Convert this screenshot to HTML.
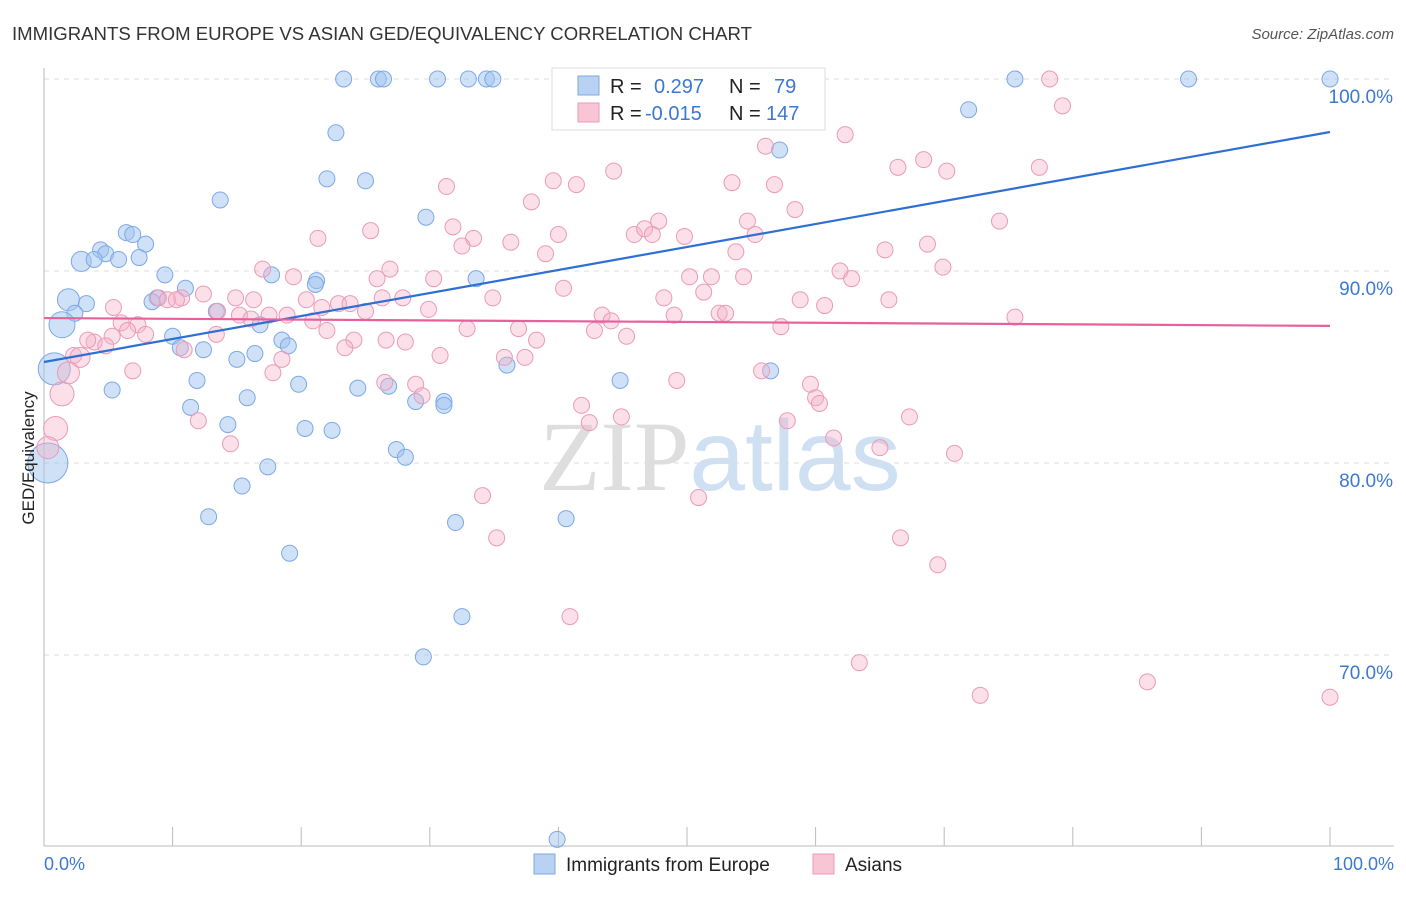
<!DOCTYPE html>
<html><head><meta charset="utf-8"><style>
body{margin:0;background:#fff;font-family:"Liberation Sans",sans-serif;}
svg text{font-family:"Liberation Sans",sans-serif;}
</style></head><body>
<svg id="chart" width="1406" height="892" xmlns="http://www.w3.org/2000/svg">
<text x="12" y="40" font-size="18" fill="#333" textLength="740" lengthAdjust="spacingAndGlyphs">IMMIGRANTS FROM EUROPE VS ASIAN GED/EQUIVALENCY CORRELATION CHART</text>
<text x="1394" y="39" font-size="15" fill="#555" text-anchor="end" font-style="italic">Source: ZipAtlas.com</text>
<text x="720" y="490" font-size="100" text-anchor="middle" fill="#e4e4e4"><tspan font-family="Liberation Serif" fill="#dedede">ZIP</tspan><tspan fill="#cfe0f3">atlas</tspan></text>
<g id="grid"></g>
<g id="axes"></g>
<g id="pts"></g>
<g id="lines"></g>
<text transform="translate(34,458) rotate(-90)" font-size="17" fill="#222" text-anchor="middle">GED/Equivalency</text>
<g>
<rect x="552" y="68" width="273" height="62" fill="#fff" stroke="#ddd"/>
<rect x="578" y="76" width="21" height="19" fill="#b9d2f4" stroke="#7ea8e4"/>
<rect x="578" y="103" width="21" height="19" fill="#f8c5d5" stroke="#eb9ab6"/>
<text x="610" y="93" font-size="20" fill="#222">R =</text>
<text x="654" y="93" font-size="20" fill="#3b78d4">0.297</text>
<text x="729" y="93" font-size="20" fill="#222">N =</text>
<text x="774" y="93" font-size="20" fill="#3b78d4">79</text>
<text x="610" y="120" font-size="20" fill="#222">R =</text>
<text x="645" y="120" font-size="20" fill="#3b78d4">-0.015</text>
<text x="729" y="120" font-size="20" fill="#222">N =</text>
<text x="766" y="120" font-size="20" fill="#3b78d4">147</text>
</g>
<g>
<rect x="534" y="854" width="21" height="20" fill="#b9d2f4" stroke="#7ea8e4"/>
<text x="566" y="871" font-size="19" fill="#222">Immigrants from Europe</text>
<rect x="813" y="854" width="21" height="20" fill="#f8c5d5" stroke="#eb9ab6"/>
<text x="845" y="871" font-size="19" fill="#222">Asians</text>
</g>
</svg>
<script>
const yTicks=[100,90,80,70];
const yTickLabels=["100.0%","90.0%","80.0%","70.0%"];
const xTickLabels=["0.0%","100.0%"];
const blueX=[23.3,26.0,26.4,30.6,33.0,34.4,34.9,47.5,75.5,89.0,100,55.1,71.9,22.7,57.2,22.0,25.0,13.7,29.7,6.4,6.9,7.9,4.4,4.8,2.9,3.9,5.8,7.4,9.4,17.7,21.2,21.1,33.6,11.0,1.9,3.3,8.8,8.4,2.4,1.4,13.4,16.8,10.0,18.5,19.0,10.6,12.4,16.4,15.0,0.8,36.0,56.5,11.9,5.3,19.8,24.4,26.8,44.8,15.8,28.9,31.1,31.1,11.4,14.3,20.3,22.4,27.4,28.1,17.4,0.3,15.4,12.8,32.0,40.6,19.1,32.5,29.5,39.9];
const blueY=[100,100,100,100,100,100,100,100,100,100,100,100,98.4,97.2,96.3,94.8,94.7,93.7,92.8,92.0,91.9,91.4,91.1,90.9,90.5,90.6,90.6,90.7,89.8,89.8,89.5,89.3,89.6,89.1,88.5,88.3,88.6,88.4,87.8,87.2,87.9,87.2,86.6,86.4,86.1,86.0,85.9,85.7,85.4,84.9,85.1,84.8,84.3,83.8,84.1,83.9,84.0,84.3,83.4,83.2,83.2,83.0,82.9,82.0,81.8,81.7,80.7,80.3,79.8,80.0,78.8,77.2,76.9,77.1,75.3,72.0,69.9,60.4];
const blueBig={24:10,34:11,39:13,49:16,69:20};
const pinkX=[78.2,79.2,62.3,56.1,44.3,66.4,68.4,70.2,77.4,31.3,39.6,41.4,53.5,56.8,37.9,58.4,74.3,54.7,47.8,31.8,25.4,21.3,40.0,36.3,33.4,32.5,45.9,46.7,47.3,49.8,55.3,65.4,68.7,39.0,53.8,17.0,19.4,26.9,25.9,30.3,69.9,61.9,62.8,50.2,51.9,54.4,27.9,40.4,34.9,51.3,48.2,58.8,60.7,65.7,14.9,20.4,22.9,23.8,26.3,16.3,10.7,8.9,9.6,12.4,10.3,5.4,6.0,13.5,15.2,18.9,21.6,17.5,16.1,25.0,29.9,43.4,44.1,49.0,52.5,53.0,75.5,7.3,5.3,6.5,7.9,3.9,4.8,10.9,13.4,3.4,20.9,22.0,24.1,26.6,28.1,32.9,36.9,38.3,42.8,45.3,57.3,23.4,2.3,2.8,1.9,30.8,35.8,37.4,18.5,17.8,6.9,55.8,1.4,26.5,28.9,29.4,49.2,59.6,60.0,60.3,41.8,44.9,42.4,67.3,57.8,12.0,0.9,14.5,61.4,65.0,70.8,0.3,34.1,50.9,35.2,66.6,69.5,40.9,63.4,72.8,85.8,100];
const pinkY=[100,98.6,97.1,96.5,95.2,95.4,95.8,95.2,95.4,94.4,94.7,94.5,94.6,94.5,93.6,93.2,92.6,92.6,92.6,92.3,92.1,91.7,91.9,91.5,91.7,91.3,91.9,92.2,91.9,91.8,91.9,91.1,91.4,90.9,91.0,90.1,89.7,90.1,89.6,89.6,90.2,90.0,89.6,89.7,89.7,89.7,88.6,89.1,88.6,88.9,88.6,88.5,88.2,88.5,88.6,88.5,88.3,88.3,88.6,88.5,88.6,88.6,88.5,88.8,88.5,88.1,87.3,87.9,87.7,87.7,88.1,87.7,87.5,87.9,88.0,87.7,87.4,87.7,87.8,87.8,87.6,87.2,86.6,86.9,86.7,86.3,86.1,85.9,86.7,86.4,87.4,86.9,86.4,86.4,86.3,87.0,87.0,86.4,86.9,86.6,87.1,86.0,85.6,85.5,84.7,85.6,85.5,85.5,85.4,84.7,84.8,84.8,83.6,84.2,84.1,83.5,84.3,84.1,83.4,83.1,83.0,82.4,82.1,82.4,82.2,82.2,81.8,81.0,81.3,80.8,80.5,80.8,78.3,78.2,76.1,76.1,74.7,72.0,69.6,67.9,68.6,67.8];
const pinkBig={103:10,104:11,112:12,126:12,131:11};
const blueTrend=[85.26,97.24];
const pinkTrend=[87.55,87.14];

const NS="http://www.w3.org/2000/svg";
const X=v=>44+v*12.86;
const Y=v=>79+(100-v)*19.2;
function mk(t,a,p){const e=document.createElementNS(NS,t);for(const k in a)e.setAttribute(k,a[k]);p.appendChild(e);return e;}
const grid=document.getElementById('grid'),axes=document.getElementById('axes'),pts=document.getElementById('pts'),lines=document.getElementById('lines');
yTicks.forEach((v,i)=>{
 const l=mk('line',{x1:44,x2:1394,y1:Y(v),y2:Y(v),stroke:'#ddd','stroke-dasharray':'5,5'},grid);
 
 
 const t=mk('text',{x:1393,y:Y(v)+24,'font-size':19,fill:'#3b78d4','text-anchor':'end'},axes);
 t.textContent=yTickLabels[i];
 
 
});
const ax=mk('line',{x1:44,x2:1394,y1:846,y2:846,stroke:'#bbb'},axes);


const ay=mk('line',{x1:44,x2:44,y1:68,y2:846,stroke:'#bbb'},axes);


for(let i=0;i<=10;i++){
 const tk=mk('line',{x1:X(i*10),x2:X(i*10),y1:827,y2:846,stroke:'#bbb'},axes);
 
 
}
[[0,'start',44],[1,'end',1394]].forEach(([i,a,x])=>{
 const t=mk('text',{x:x,y:870,'font-size':18,fill:'#3b78d4','text-anchor':a},axes);
 t.textContent=xTickLabels[i];
 
 
});
blueX.forEach((v,i)=>{
 const c=mk('circle',{cx:X(v),cy:Y(blueY[i]),r:blueBig[i]||8,fill:'rgba(160,196,240,0.5)',stroke:'#7ea8e4','stroke-width':1},pts);
 
 
});
pinkX.forEach((v,i)=>{
 const c=mk('circle',{cx:X(v),cy:Y(pinkY[i]),r:pinkBig[i]||8,fill:'rgba(246,178,200,0.4)',stroke:'#eb9ab6','stroke-width':1},pts);
 
 
});
const bl=mk('line',{x1:X(0),x2:X(100),y1:Y(blueTrend[0]),y2:Y(blueTrend[1]),stroke:'#2f6fd4','stroke-width':2.2},lines);


const pl=mk('line',{x1:X(0),x2:X(100),y1:Y(pinkTrend[0]),y2:Y(pinkTrend[1]),stroke:'#e8609a','stroke-width':2.2},lines);


</script>
</body></html>
